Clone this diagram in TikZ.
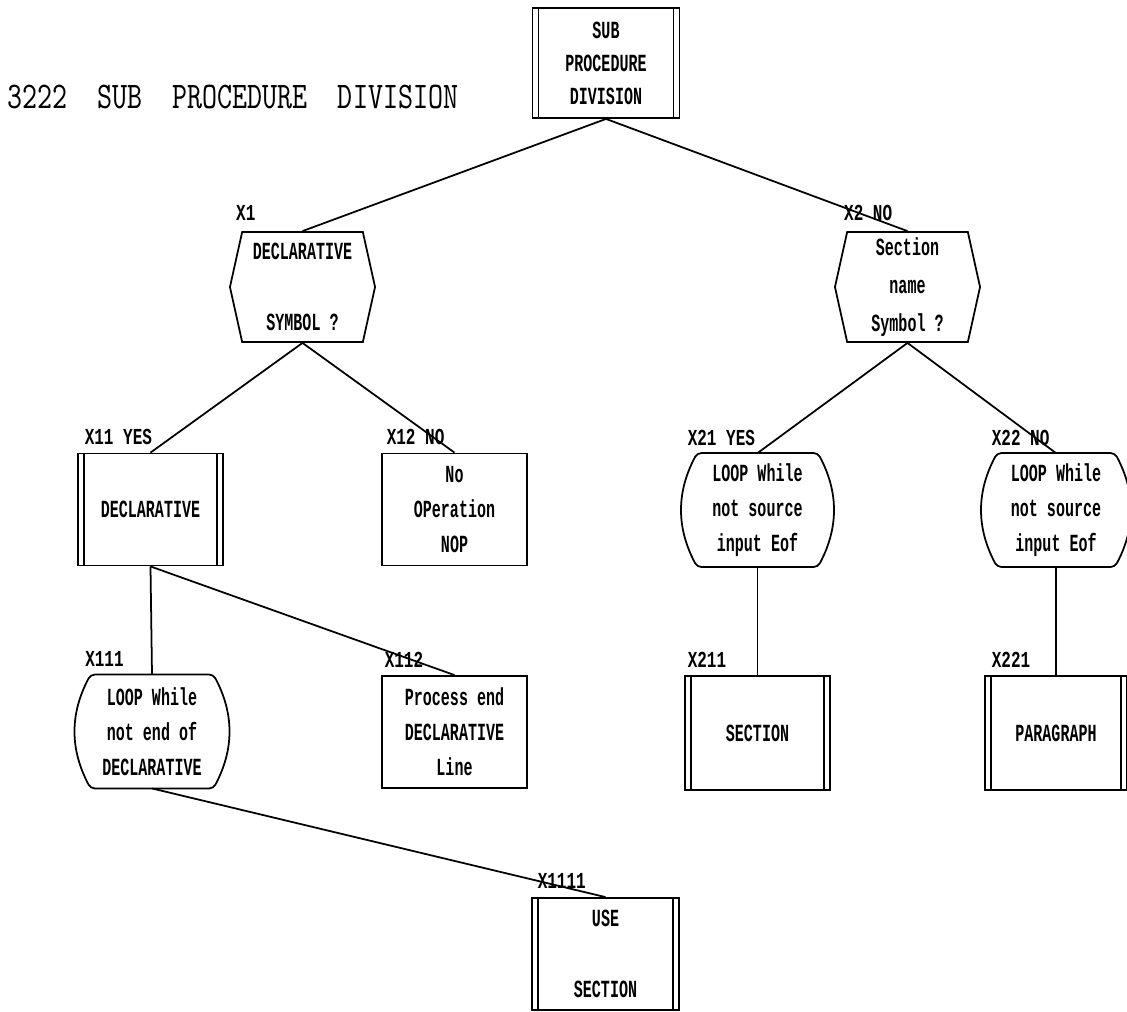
\documentclass[tikz,border=0pt]{standalone}
\usepackage{fontspec}
\usepackage{graphicx}
\usetikzlibrary{positioning,shapes.symbols}
\newfontfamily\chartfont{Liberation Mono}
% condensed text, the printer font is narrow
\newcommand{\nm}[1]{\scalebox{0.61}[1]{#1}}
\newcommand{\tg}[1]{\scalebox{0.7}[1]{#1}}
\newcommand{\ttl}[1]{\scalebox{0.76}[1]{#1}}

\tikzset{
  chart/.style={font=\chartfont\bfseries\fontsize{7}{10}\selectfont, align=center, inner sep=0pt, line width=0.5pt},
  procbox/.style={chart, draw, rectangle, minimum width=1.45cm, minimum height=1.12cm,
    path picture={
      \draw ([xshift=0.06cm]path picture bounding box.north west) -- ([xshift=0.06cm]path picture bounding box.south west);
      \draw ([xshift=-0.06cm]path picture bounding box.north east) -- ([xshift=-0.06cm]path picture bounding box.south east);
    }},
  opbox/.style={chart, draw, rectangle, minimum width=1.45cm, minimum height=1.12cm},
  % flat top and bottom, bulging sides
  loopbox/.style={chart, rectangle, minimum width=1.45cm, minimum height=1.12cm,
    append after command={\pgfextra{\draw[line width=0.5pt, rounded corners=0.04cm]
      (\tikzlastnode.north) -- ([xshift=-0.13cm]\tikzlastnode.north east)
      to[bend left=28] ([xshift=-0.13cm]\tikzlastnode.south east)
      -- ([xshift=0.13cm]\tikzlastnode.south west)
      to[bend left=28] ([xshift=0.13cm]\tikzlastnode.north west) -- cycle;}}},
  testbox/.style={chart, draw, signal, signal to=west and east, signal pointer angle=155, minimum width=1.45cm, minimum height=1.10cm},
  tag/.style={font=\chartfont\bfseries\fontsize{6.5}{8}\selectfont, inner sep=0pt, anchor=south west},
  link/.style={line width=0.5pt},
}

\begin{document}
\begin{tikzpicture}[x=0.01cm, y=-0.01cm]
\useasboundingbox (0,0) rectangle (1127,1011);

\node[anchor=west, inner sep=0pt, font=\ttfamily\fontsize{10.7}{12}\selectfont] (caption) at (7,97) {\ttl{3222~~SUB~~PROCEDURE~~DIVISION}};

% level 0
\node[procbox, minimum width=1.47cm, minimum height=1.10cm, font=\chartfont\bfseries\fontsize{7}{9.4}\selectfont] (top) at (606,63) {\nm{SUB}\\\nm{PROCEDURE}\\\nm{DIVISION}};

% level 1 : tests
\node[testbox] (x1) at (302.5,287) {\nm{DECLARATIVE}\\~\\\nm{SYMBOL ?}};
\node[testbox, font=\chartfont\bfseries\fontsize{7}{10.8}\selectfont] (x2) at (907.5,287) {\nm{Section}\\\nm{name}\\\nm{Symbol ?}};

% level 2
\node[procbox] (x11) at (150.5,509.5) {\nm{DECLARATIVE}};
\node[opbox] (x12) at (454.5,509.5) {\nm{No}\\\nm{OPeration}\\\nm{NOP}};
\node[loopbox] (x21) at (757.5,510) {\nm{LOOP While}\\\nm{not source}\\\nm{input Eof}};
\node[loopbox, minimum width=1.42cm] (x22) at (1056,510) {\nm{LOOP While}\\\nm{not source}\\\nm{input Eof}};

% level 3
\node[loopbox, minimum width=1.47cm] (x111) at (152,731.5) {\nm{LOOP While}\\\nm{not end of}\\\nm{DECLARATIVE}};
\node[opbox] (x112) at (454.5,732) {\nm{Process end}\\\nm{DECLARATIVE}\\\nm{Line}};
\node[procbox, minimum height=1.14cm] (x211) at (757.5,733) {\nm{SECTION}};
\node[procbox, minimum width=1.42cm, minimum height=1.14cm] (x221) at (1056,733) {\nm{PARAGRAPH}};

% level 4
\node[procbox, minimum width=1.47cm] (x1111) at (605.5,954) {\nm{USE}\\~\\\nm{SECTION}};

% numbers above the boxes
\node[tag, above right=0.1cm and -0.67cm of x1.north] (t1) {\tg{X1}};
\node[tag, above right=0.1cm and -0.64cm of x2.north] (t2) {\tg{X2 NO}};
\node[tag, above right=0.07cm and 0.07cm of x11.north west] (t11) {\tg{X11 YES}};
\node[tag, above right=0.07cm and 0.05cm of x12.north west] (t12) {\tg{X12 NO}};
\node[tag, above right=0.07cm and 0.03cm of x21.north west] (t21) {\tg{X21 YES}};
\node[tag, above right=0.07cm and 0.07cm of x22.north west] (t22) {\tg{X22 NO}};
\node[tag, above right=0.07cm and 0.07cm of x111.north west] (t111) {\tg{X111}};
\node[tag, above right=0.07cm and 0.03cm of x112.north west] (t112) {\tg{X112}};
\node[tag, above right=0.07cm and 0.03cm of x211.north west] (t211) {\tg{X211}};
\node[tag, above right=0.07cm and 0.07cm of x221.north west] (t221) {\tg{X221}};
\node[tag, above right=0.08cm and 0.06cm of x1111.north west] (t1111) {\tg{X1111}};

% tree
\draw[link] (top.south) -- (x1.north);
\draw[link] (top.south) -- (x2.north);
\draw[link] (x1.south) -- (x11.north);
\draw[link] (x1.south) -- (x12.north);
\draw[link] (x2.south) -- (x21.north);
\draw[link] (x2.south) -- (x22.north);
\draw[link] (x11.south) -- (x111.north);
\draw[link] (x11.south) -- (x112.north);
\draw[link] (x21.south) -- (x211.north);
\draw[link] (x22.south) -- (x221.north);
\draw[link] (x111.south) -- (x1111.north);
\end{tikzpicture}
\end{document}
